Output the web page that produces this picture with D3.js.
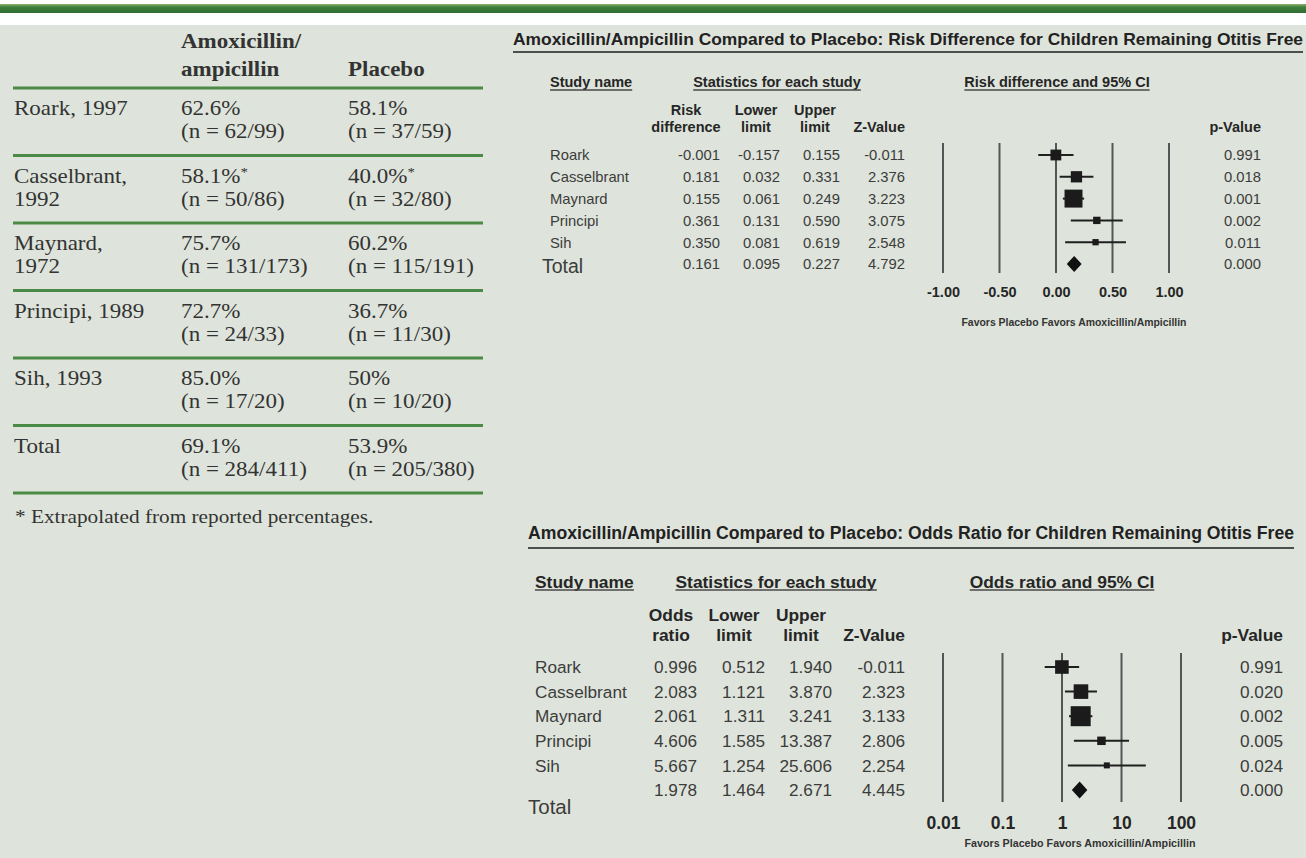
<!DOCTYPE html>
<html>
<head>
<meta charset="utf-8">
<script src="https://cdn.jsdelivr.net/npm/d3@7/dist/d3.min.js"></script>
<style>
  html, body { margin: 0; padding: 0; background: #ffffff; }
  svg { display: block; }
</style>
</head>
<body>
<svg id="chart" width="1306" height="858"></svg>
<script>
// ---------- Summary table: children remaining otitis free ----------
const tableStudyLines = [["Roark, 1997"], ["Casselbrant,", "1992"], ["Maynard,", "1972"],
                         ["Principi, 1989"], ["Sih, 1993"], ["Total"]];
const amoxPct    = ["62.6%", "58.1%*", "75.7%", "72.7%", "85.0%", "69.1%"];
const amoxN      = ["62/99", "50/86", "131/173", "24/33", "17/20", "284/411"];
const placeboPct = ["58.1%", "40.0%*", "60.2%", "36.7%", "50%", "53.9%"];
const placeboN   = ["37/59", "32/80", "115/191", "11/30", "10/20", "205/380"];
const tableFootnote = "* Extrapolated from reported percentages.";

// ---------- Meta-analysis: study-level statistics ----------
const studies = ["Roark", "Casselbrant", "Maynard", "Principi", "Sih"];

// Risk difference
const rdPoint = [-0.001, 0.181, 0.155, 0.361, 0.350];
const rdLower = [-0.157, 0.032, 0.061, 0.131, 0.081];
const rdUpper = [0.155, 0.331, 0.249, 0.590, 0.619];
const rdZ     = [-0.011, 2.376, 3.223, 3.075, 2.548];
const rdP     = [0.991, 0.018, 0.001, 0.002, 0.011];
const rdTotal = [0.161, 0.095, 0.227, 4.792, 0.000];   // point, lower, upper, Z, p
const rdTickValues = [-1, -0.5, 0, 0.5, 1];
const rdTickLabels = ["-1.00", "-0.50", "0.00", "0.50", "1.00"];

// Odds ratio
const orPoint = [0.996, 2.083, 2.061, 4.606, 5.667];
const orLower = [0.512, 1.121, 1.311, 1.585, 1.254];
const orUpper = [1.940, 3.870, 3.241, 13.387, 25.606];
const orZ     = [-0.011, 2.323, 3.133, 2.806, 2.254];
const orP     = [0.991, 0.020, 0.002, 0.005, 0.024];
const orTotal = [1.978, 1.464, 2.671, 4.445, 0.000];
const orTickValues = [0.01, 0.1, 1, 10, 100];
const orTickLabels = ["0.01", "0.1", "1", "10", "100"];

const favorsLabel = "Favors Placebo Favors Amoxicillin/Ampicillin";

// ---------- drawing ----------
const W = 1306, H = 858;
const SANS = "'Liberation Sans', Arial, Helvetica, sans-serif";
const SERIF = "'Liberation Serif', 'Times New Roman', serif";
const svg = d3.select("#chart");

const defs = svg.append("defs");
const grad = defs.append("linearGradient").attr("id", "barGrad")
  .attr("x1", 0).attr("y1", 0).attr("x2", 0).attr("y2", 1);
grad.append("stop").attr("offset", "0%").attr("stop-color", "#8fb36f");
grad.append("stop").attr("offset", "35%").attr("stop-color", "#3f7f3c");
grad.append("stop").attr("offset", "100%").attr("stop-color", "#2f6c31");

svg.append("rect").attr("width", W).attr("height", H).attr("fill", "#ffffff");
svg.append("rect").attr("y", 25).attr("width", W).attr("height", H - 25).attr("fill", "#dee4db");
svg.append("rect").attr("y", 4).attr("width", W).attr("height", 9).attr("fill", "url(#barGrad)");

// ----- left table (serif, set slightly wide) -----
const SX = 1.15;
const tbl = svg.append("g").attr("class", "summary-table");

function serif(x, y, size, weight) {
  return tbl.append("text")
    .attr("transform", `translate(${x},${y}) scale(${SX},1)`)
    .attr("font-family", SERIF).attr("font-size", size)
    .attr("font-weight", weight || "normal")
    .attr("fill", "#333");
}
function withStar(t, str) {
  t.append("tspan").text(str.replace("*", ""));
  if (str.includes("*")) t.append("tspan").attr("dy", -7).attr("font-size", 13).text("*");
}

const colX = [14, 181, 348];
serif(colX[1], 48, 20, "bold").text("Amoxicillin/");
serif(colX[1], 76, 20, "bold").text("ampicillin");
serif(colX[2], 76, 20, "bold").text("Placebo");

const rowBand = d3.scaleBand().domain(d3.range(tableStudyLines.length)).range([88, 493]);
const ruleYs = rowBand.domain().map(i => rowBand(i)).concat([493]);
tbl.selectAll("line.rule").data(ruleYs).join("line").attr("class", "rule")
  .attr("x1", 13).attr("x2", 483).attr("y1", d => d).attr("y2", d => d)
  .attr("stroke", "#4a8a44").attr("stroke-width", 3);

tableStudyLines.forEach((lines, i) => {
  const top = rowBand(i);
  lines.forEach((ln, k) => serif(colX[0], top + 27 + 23 * k, 20).text(ln));
  withStar(serif(colX[1], top + 27, 20), amoxPct[i]);
  serif(colX[1], top + 50, 20).text(`(n = ${amoxN[i]})`);
  withStar(serif(colX[2], top + 27, 20), placeboPct[i]);
  serif(colX[2], top + 50, 20).text(`(n = ${placeboN[i]})`);
});
serif(15, 523, 18.5).text(tableFootnote);

// ----- forest plots -----
// inverse-variance weights (%) from the 95% limits, used to size the study squares
function ivWeights(lo, hi, tf) {
  const w = lo.map((l, i) => 1 / Math.pow((tf(hi[i]) - tf(l)) / 3.92, 2));
  const s = d3.sum(w);
  return w.map(v => 100 * v / s);
}

function drawForest(cfg) {
  const g = svg.append("g");
  const txt = (x, y, str, size, opt = {}) => g.append("text")
    .attr("x", x).attr("y", y).attr("dy", "0.36em")
    .attr("font-family", SANS).attr("font-size", size)
    .attr("font-weight", opt.bold ? "bold" : "normal")
    .attr("text-anchor", opt.anchor || "start")
    .attr("fill", opt.fill || (opt.bold ? "#262626" : "#3c3c3c"))
    .text(str);
  const underline = (t, dy, w) => {
    const b = t.node().getBBox();
    g.append("line").attr("x1", b.x).attr("x2", b.x + b.width)
      .attr("y1", dy).attr("y2", dy).attr("stroke", "#4a4a4a").attr("stroke-width", w || 1.6);
  };

  // title
  const title = txt(cfg.titleX, cfg.titleY, cfg.title, cfg.titleSize, { bold: true, fill: "#222" });
  if (cfg.titleLen) title.attr("textLength", cfg.titleLen).attr("lengthAdjust", "spacingAndGlyphs");
  g.append("line").attr("x1", cfg.titleX).attr("x2", cfg.titleX + cfg.titleLen)
    .attr("y1", cfg.titleRuleY).attr("y2", cfg.titleRuleY)
    .attr("stroke", "#4d4d4d").attr("stroke-width", 2);

  // section heads
  underline(txt(cfg.nameX, cfg.headY, "Study name", cfg.headSize, { bold: true }), cfg.headY + 8);
  underline(txt(cfg.statsCenter, cfg.headY, "Statistics for each study", cfg.headSize, { bold: true, anchor: "middle" }), cfg.headY + 8);
  underline(txt(cfg.plotCenter, cfg.headY, cfg.plotHead, cfg.headSize, { bold: true, anchor: "middle" }), cfg.headY + 8);

  // column heads
  cfg.cols.forEach(c => {
    if (c.head[0]) txt(c.headX, cfg.colHeadY[0], c.head[0], cfg.headSize, { bold: true, anchor: c.headAnchor });
    txt(c.headX, cfg.colHeadY[1], c.head[1], cfg.headSize, { bold: true, anchor: c.headAnchor });
  });
  txt(cfg.pX, cfg.colHeadY[1], "p-Value", cfg.headSize, { bold: true, anchor: "end" });

  // rows
  const y = d3.scalePoint().domain(studies.concat(["Total"])).range(cfg.rowRange);
  const fmt = v => v.toFixed(3);
  studies.forEach((s, i) => {
    txt(cfg.nameX, y(s), s, cfg.valSize);
    const vals = [cfg.point[i], cfg.lower[i], cfg.upper[i], cfg.z[i]];
    vals.forEach((v, k) => txt(cfg.cols[k].valX, y(s), fmt(v), cfg.valSize, { anchor: "end" }));
    txt(cfg.pX, y(s), fmt(cfg.p[i]), cfg.valSize, { anchor: "end" });
  });
  txt(cfg.totalX, cfg.totalLabelY, "Total", cfg.totalSize);
  cfg.total.slice(0, 4).forEach((v, k) => txt(cfg.cols[k].valX, y("Total"), fmt(v), cfg.valSize, { anchor: "end" }));
  txt(cfg.pX, y("Total"), fmt(cfg.total[4]), cfg.valSize, { anchor: "end" });

  // plot
  const x = cfg.x;
  g.selectAll("line.grid").data(cfg.tickValues).join("line").attr("class", "grid")
    .attr("x1", d => x(d)).attr("x2", d => x(d))
    .attr("y1", cfg.gridY[0]).attr("y2", cfg.gridY[1])
    .attr("stroke", "#555").attr("stroke-width", 2);

  const axis = d3.axisBottom(x).tickValues(cfg.tickValues)
    .tickFormat((d, i) => cfg.tickLabels[i]).tickSize(0).tickPadding(0);
  const ax = g.append("g").attr("transform", `translate(0,${cfg.tickLabelY})`).call(axis);
  ax.select(".domain").remove();
  ax.selectAll("text").attr("y", 0).attr("dy", "0.36em")
    .attr("font-family", SANS).attr("font-size", cfg.tickSize)
    .attr("font-weight", "bold").attr("fill", "#262626");

  txt(cfg.favorsX, cfg.favorsY, favorsLabel, cfg.favorsSize, { bold: true, anchor: "middle", fill: "#333" })
    .attr("textLength", cfg.favorsLen).attr("lengthAdjust", "spacingAndGlyphs");

  const weights = ivWeights(cfg.lower, cfg.upper, cfg.tf);
  const side = d3.scaleSqrt().domain([0, 100]).range([0, cfg.maxSide]);
  const marks = g.selectAll("g.study").data(studies).join("g").attr("class", "study");
  marks.append("line")
    .attr("x1", (d, i) => x(cfg.lower[i])).attr("x2", (d, i) => x(cfg.upper[i]))
    .attr("y1", d => y(d)).attr("y2", d => y(d))
    .attr("stroke", "#1f1f1f").attr("stroke-width", 2);
  marks.append("rect")
    .attr("x", (d, i) => x(cfg.point[i]) - side(weights[i]) / 2)
    .attr("y", (d, i) => y(d) - side(weights[i]) / 2)
    .attr("width", (d, i) => side(weights[i])).attr("height", (d, i) => side(weights[i]))
    .attr("fill", "#1b1b1b");

  const ty = y("Total"), h = cfg.diamondH / 2;
  g.append("path")
    .attr("d", `M${x(cfg.total[1])},${ty} L${x(cfg.total[0])},${ty - h} L${x(cfg.total[2])},${ty} L${x(cfg.total[0])},${ty + h} Z`)
    .attr("fill", "#111");
}

// Risk difference panel
drawForest({
  title: "Amoxicillin/Ampicillin Compared to Placebo:  Risk Difference for Children Remaining Otitis Free",
  titleX: 513, titleY: 39, titleSize: 16.5, titleLen: 790, titleRuleY: 52,
  headY: 82, headSize: 14.5, nameX: 550, statsCenter: 777, plotCenter: 1057,
  plotHead: "Risk difference and 95% CI",
  colHeadY: [110, 127],
  cols: [
    { head: ["Risk", "difference"], headX: 686, headAnchor: "middle", valX: 720 },
    { head: ["Lower", "limit"], headX: 756, headAnchor: "middle", valX: 780 },
    { head: ["Upper", "limit"], headX: 815, headAnchor: "middle", valX: 840 },
    { head: ["", "Z-Value"], headX: 905, headAnchor: "end", valX: 905 }
  ],
  pX: 1261, valSize: 14.8,
  rowRange: [155, 264], totalX: 542, totalLabelY: 266, totalSize: 19.5,
  point: rdPoint, lower: rdLower, upper: rdUpper, z: rdZ, p: rdP, total: rdTotal,
  x: d3.scaleLinear().domain([-1, 1]).range([943, 1169]),
  tf: v => v,
  tickValues: rdTickValues, tickLabels: rdTickLabels,
  gridY: [143, 273], tickLabelY: 292, tickSize: 14.5,
  favorsX: 1074, favorsY: 322, favorsSize: 10, favorsLen: 225,
  maxSide: 25.7, diamondH: 16
});

// Odds ratio panel
drawForest({
  title: "Amoxicillin/Ampicillin Compared to Placebo:  Odds Ratio for Children Remaining Otitis Free",
  titleX: 528, titleY: 533, titleSize: 17.5, titleLen: 766, titleRuleY: 548,
  headY: 582, headSize: 17.4, nameX: 535, statsCenter: 776, plotCenter: 1062,
  plotHead: "Odds ratio and 95% CI",
  colHeadY: [615, 635],
  cols: [
    { head: ["Odds", "ratio"], headX: 671, headAnchor: "middle", valX: 697 },
    { head: ["Lower", "limit"], headX: 734, headAnchor: "middle", valX: 765 },
    { head: ["Upper", "limit"], headX: 801, headAnchor: "middle", valX: 832 },
    { head: ["", "Z-Value"], headX: 905, headAnchor: "end", valX: 905 }
  ],
  pX: 1283, valSize: 17.2,
  rowRange: [667, 790], totalX: 528, totalLabelY: 807, totalSize: 20.5,
  point: orPoint, lower: orLower, upper: orUpper, z: orZ, p: orP, total: orTotal,
  x: d3.scaleLog().domain([0.01, 100]).range([943, 1181]),
  tf: Math.log,
  tickValues: orTickValues, tickLabels: orTickLabels,
  gridY: [653, 802], tickLabelY: 823, tickSize: 17.5,
  favorsX: 1080, favorsY: 843, favorsSize: 10.5, favorsLen: 231,
  maxSide: 30.1, diamondH: 17
});
</script>
</body>
</html>
